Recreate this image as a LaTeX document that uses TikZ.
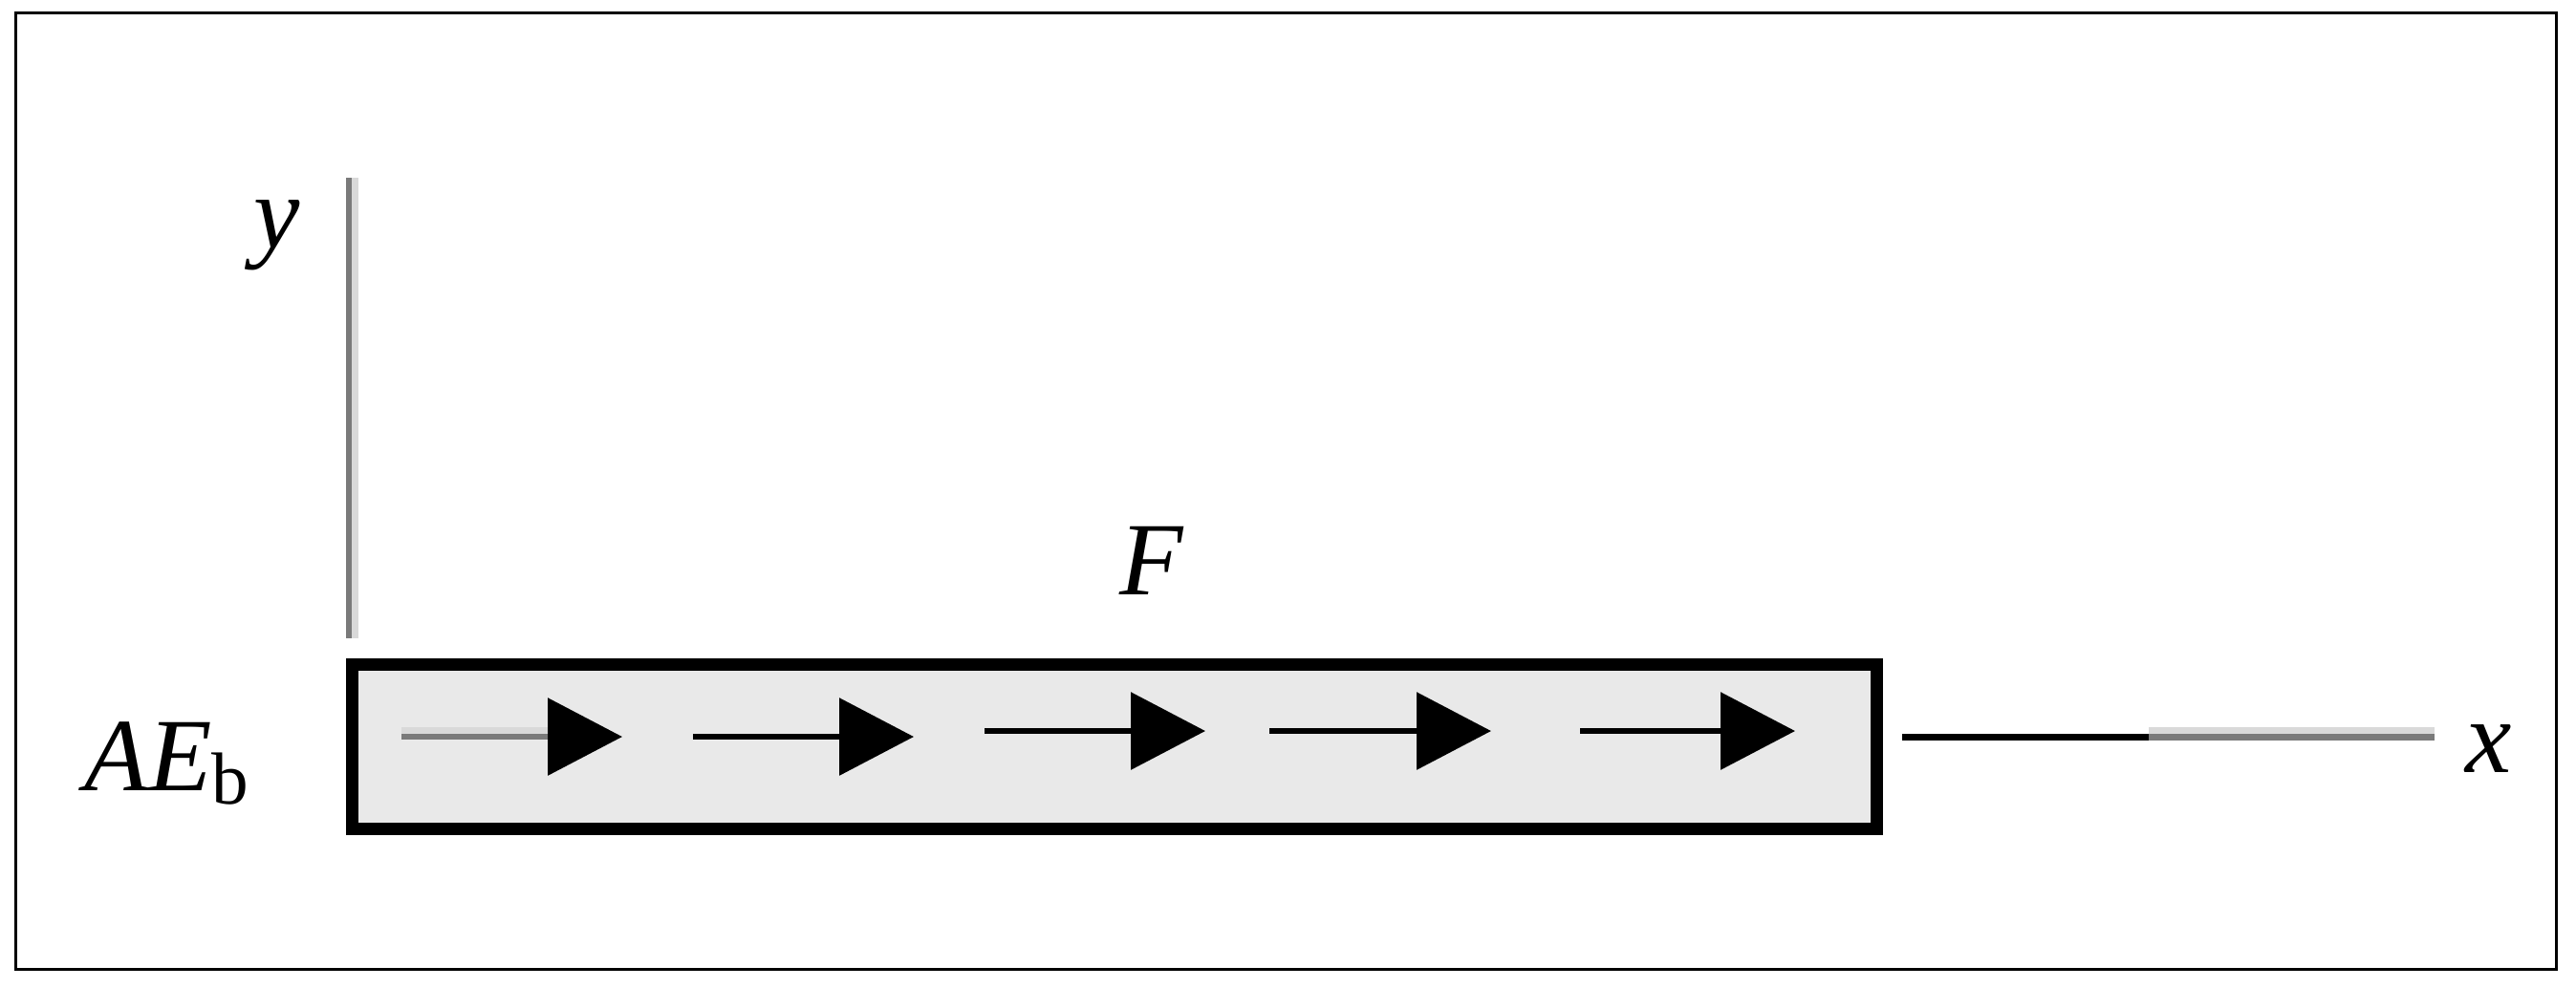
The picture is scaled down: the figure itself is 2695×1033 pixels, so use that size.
\documentclass[tikz,border=0pt]{standalone}
\usepackage{fontspec}
\setmainfont{Liberation Serif}
\usetikzlibrary{arrows.meta}
\definecolor{boxfill}{HTML}{E9E9E9}
\definecolor{axisdark}{HTML}{7A7A7A}
\definecolor{axislight}{HTML}{D9D9D9}
\tikzset{
  lbl/.style={inner sep=0pt, font=\fontsize{27.2pt}{30pt}\selectfont},
  forcearrow/.style={line width=1.6pt, -{Triangle[length=19.5pt,width=20pt,color=black]}},
  axisline/.style={line width=1.5pt, draw=axisdark},
  axishalo/.style={line width=1.75pt, draw=axislight},
}
\begin{document}
\begin{tikzpicture}[x=0.25pt,y=-0.25pt]
\useasboundingbox (0,0) rectangle (2695,1033);
% outer frame
\draw[line width=0.75pt] (16,13) rectangle (2674,1014);

% y axis
\coordinate (yt) at (365,186);
\coordinate (yb) at (365,668);
\coordinate (yth) at (371.5,186);
\coordinate (ybh) at (371.5,668);
\draw[axishalo] (yth) -- (ybh);
\draw[axisline] (yt) -- (yb);

% bar
\node[draw, line width=3.25pt, fill=boxfill, minimum width=398.75pt, minimum height=43pt, inner sep=0pt] (bar) at (1166,781.5) {};

% force arrows
\coordinate (a1s) at (420,771);  \coordinate (a1e) at (651,771);
\coordinate (a1h) at (420,764);  \coordinate (a1b) at (573,764);
\coordinate (a2s) at (725,771);  \coordinate (a2e) at (956,771);
\coordinate (a3s) at (1030,765); \coordinate (a3e) at (1261,765);
\coordinate (a4s) at (1328,765); \coordinate (a4e) at (1560,765);
\coordinate (a5s) at (1653,765); \coordinate (a5e) at (1878,765);
\draw[axishalo] (a1h) -- (a1b);
\draw[forcearrow, draw=axisdark] (a1s) -- (a1e);
\draw[forcearrow] (a2s) -- (a2e);
\draw[forcearrow] (a3s) -- (a3e);
\draw[forcearrow] (a4s) -- (a4e);
\draw[forcearrow] (a5s) -- (a5e);

% x axis
\coordinate (xs) at (1990,771.5);
\coordinate (xm) at (2248,771.5);
\coordinate (xe) at (2547,771.5);
\coordinate (xmh) at (2248,764.5);
\coordinate (xeh) at (2547,764.5);
\draw[line width=1.75pt] (xs) -- (xm);
\draw[axishalo] (xmh) -- (xeh);
\draw[axisline, line width=1.75pt] (xm) -- (xe);

% labels
\node[lbl, anchor=base] (ylab) at (290,259) {\itshape y};
\node[lbl, anchor=base] (Flab) at (1205,622) {\itshape F};
\node[lbl, anchor=base west] (AElab) at (88,827) {\itshape AE\raisebox{-3.5pt}{\fontsize{19.3pt}{20pt}\selectfont\upshape b}};
\node[lbl, anchor=base] (xlab) at (2604,808) {\itshape x};
\end{tikzpicture}
\end{document}
